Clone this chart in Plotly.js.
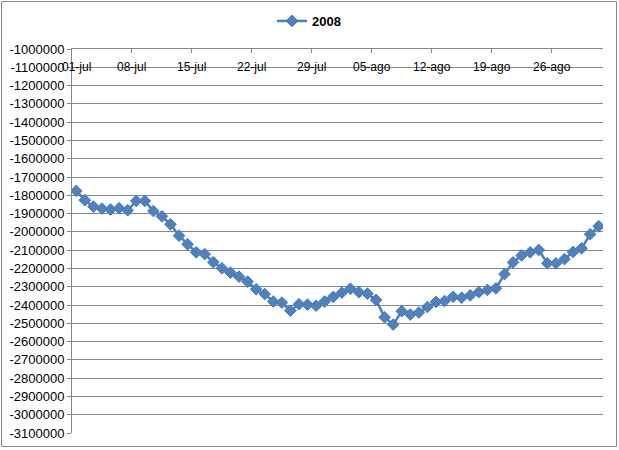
<!DOCTYPE html>
<html>
<head>
<meta charset="utf-8">
<script src="https://cdn.plot.ly/plotly-3.0.1.min.js"></script>
<style>
  html, body { margin: 0; padding: 0; background: #ffffff; }
  #chart { width: 619px; height: 450px; }
</style>
</head>
<body>
<div id="chart"></div>
<script>
// ---- data ----
var seriesName = "2008";
var startDate = "2008-07-01";
var dayCount = 62;
var values2008 = [
  -1776000, -1827000, -1862000, -1873000, -1878000, -1871000, -1882000, -1831000,
  -1831000, -1886000, -1915000, -1959000, -2021000, -2068000, -2112000, -2122000,
  -2166000, -2199000, -2223000, -2245000, -2272000, -2314000, -2340000, -2381000,
  -2387000, -2431000, -2396000, -2398000, -2404000, -2381000, -2356000, -2333000,
  -2311000, -2330000, -2338000, -2372000, -2467000, -2507000, -2434000, -2452000,
  -2441000, -2411000, -2383000, -2378000, -2355000, -2360000, -2347000, -2330000,
  -2318000, -2309000, -2231000, -2167000, -2129000, -2112000, -2099000, -2172000,
  -2172000, -2149000, -2110000, -2090000, -2013000, -1969000
];
var xTickText = ["01-jul", "08-jul", "15-jul", "22-jul", "29-jul", "05-ago", "12-ago", "19-ago", "26-ago"];
var yMin = -3100000, yMax = -1000000, yStep = 100000;

// ---- derived ----
function addDays(s, n, half) {
  var d = new Date(s + "T00:00:00Z");
  d.setUTCDate(d.getUTCDate() + n);
  var iso = d.toISOString().slice(0, 10);
  return half ? iso + " 12:00" : iso;
}
var dates = [];
for (var i = 0; i < dayCount; i++) dates.push(addDays(startDate, i, false));
var xTickVals = [];
for (var k = 0; k < xTickText.length; k++) xTickVals.push(addDays(startDate, 7 * k - 1, true));
var yTickVals = [], yTickText = [];
for (var v = yMax; v >= yMin; v -= yStep) { yTickVals.push(v); yTickText.push(String(v)); }

var gray = "#868686";
var L = 72, R = 16, T = 49, B = 17, W = 619, H = 450;
var pw = W - L - R, ph = H - T - B;
function px2x(p) { return (p - L) / pw; }
function px2y(p) { return (H - B - p) / ph; }

var annotations = xTickText.map(function (t, k) {
  return {
    x: xTickVals[k], y: 1, xref: "x", yref: "paper",
    text: t, showarrow: false, yanchor: "middle", xanchor: "center", yshift: -18,
    xshift: k === 0 ? 4 : 0,
    font: { family: "Liberation Sans, Arial, sans-serif", size: 12, color: "#000000" }
  };
});

var trace = {
  x: dates, y: values2008, name: seriesName, type: "scatter", mode: "lines+markers",
  line: { color: "#4A7EBB", width: 2.5 },
  marker: { symbol: "diamond", size: 9, color: "#4F81BD", line: { color: "#4A7EBB", width: 1 } }
};

var layout = {
  width: W, height: H,
  margin: { l: L, r: R, t: T, b: B, pad: 0 },
  paper_bgcolor: "#ffffff", plot_bgcolor: "#ffffff",
  showlegend: true,
  legend: {
    orientation: "h", x: 272 / W, xref: "container", xanchor: "left",
    y: 1 - 21 / H, yref: "container", yanchor: "middle",
    font: { family: "Liberation Sans, Arial, sans-serif", size: 13, color: "#000000", weight: "bold" },
    bgcolor: "rgba(0,0,0,0)"
  },
  xaxis: {
    type: "date", range: [addDays(startDate, -1, true), addDays(startDate, dayCount - 1, true)],
    side: "top", ticks: "inside", ticklen: 4, tickcolor: gray, tickwidth: 1,
    tickvals: xTickVals, showticklabels: false,
    showgrid: false, zeroline: false, showline: true, linecolor: gray, linewidth: 1,
    fixedrange: true
  },
  yaxis: {
    range: [yMin, yMax], tickvals: yTickVals, ticktext: yTickText,
    ticks: "outside", ticklen: 4, tickcolor: gray, tickwidth: 1,
    showline: true, linecolor: gray, linewidth: 1,
    showgrid: true, gridcolor: gray, gridwidth: 1, zeroline: false,
    tickfont: { family: "Liberation Sans, Arial, sans-serif", size: 13, color: "#000000" },
    fixedrange: true
  },
  annotations: annotations,
  shapes: [{
    type: "rect", xref: "paper", yref: "paper",
    x0: px2x(1.5), x1: px2x(616.5), y0: px2y(446.5), y1: px2y(1.5),
    line: { color: gray, width: 1 }, fillcolor: "rgba(0,0,0,0)", layer: "above"
  }]
};

Plotly.newPlot("chart", [trace], layout, { displayModeBar: false, staticPlot: true });
</script>
</body>
</html>
